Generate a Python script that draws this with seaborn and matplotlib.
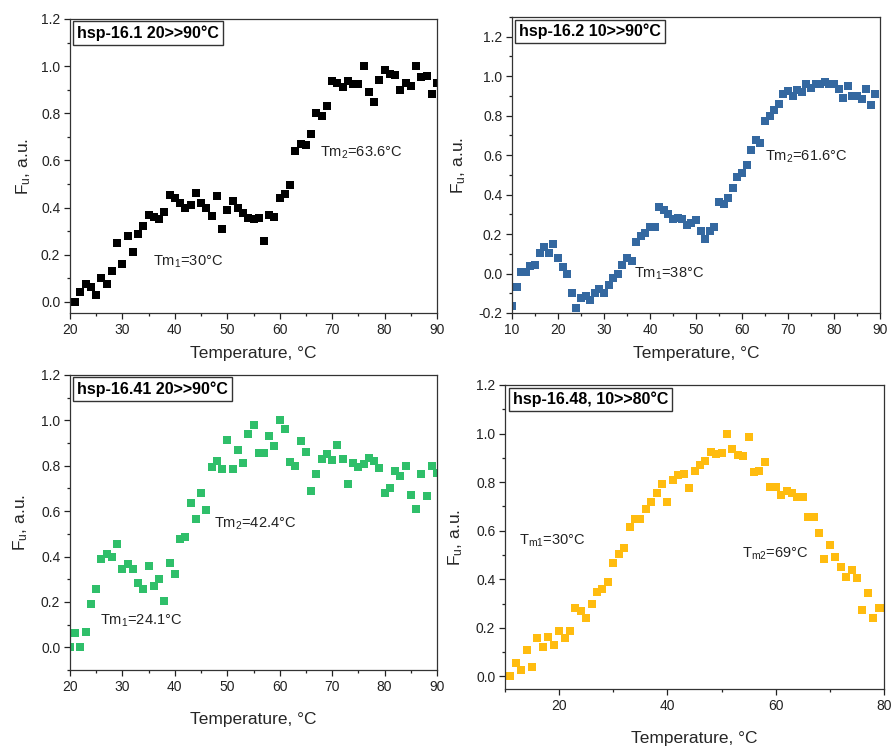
import numpy as np
import pandas as pd
import matplotlib
matplotlib.use("Agg")
import matplotlib.pyplot as plt
from matplotlib.ticker import MultipleLocator, FormatStrFormatter
import seaborn as sns

# ---- data: unfolded fraction F_u versus temperature ----
temp_161 = [20.5] + list(range(21, 91))
fu_161 = [0.00, 0.00, 0.044, 0.077, 0.063, 0.028, 0.103, 0.075, 0.13, 0.25,
          0.16, 0.28, 0.21, 0.29, 0.32, 0.37, 0.36, 0.35, 0.38, 0.455,
          0.44, 0.42, 0.40, 0.41, 0.46, 0.42, 0.40, 0.365, 0.45, 0.31,
          0.39, 0.43, 0.40, 0.376, 0.355, 0.35, 0.356, 0.26, 0.37, 0.36,
          0.44, 0.458, 0.496, 0.64, 0.67, 0.666, 0.714, 0.80, 0.787, 0.83,
          0.935, 0.93, 0.91, 0.935, 0.925, 0.925, 1.0, 0.89, 0.85, 0.94,
          0.985, 0.965, 0.962, 0.897, 0.93, 0.917, 1.0, 0.955, 0.96, 0.88, 0.93]

temp_162 = list(range(10, 90))
fu_162 = [-0.164, -0.069, 0.01, 0.01, 0.036, 0.042, 0.103, 0.135, 0.105, 0.15,
          0.081, 0.032, 0.0, -0.098, -0.173, -0.125, -0.113, -0.135, -0.098, -0.078,
          -0.098, -0.056, -0.022, 0.0, 0.042, 0.078, 0.063, 0.159, 0.188, 0.203,
          0.235, 0.235, 0.337, 0.32, 0.303, 0.274, 0.28, 0.277, 0.245, 0.257,
          0.269, 0.218, 0.176, 0.215, 0.235, 0.364, 0.35, 0.384, 0.435, 0.49,
          0.511, 0.55, 0.626, 0.678, 0.662, 0.775, 0.797, 0.83, 0.86, 0.909,
          0.925, 0.898, 0.93, 0.922, 0.963, 0.939, 0.963, 0.959, 0.973, 0.963,
          0.963, 0.934, 0.892, 0.951, 0.902, 0.902, 0.883, 0.934, 0.856, 0.912]

temp_1641 = list(range(20, 91))
fu_1641 = [0.0, 0.062, 0.003, 0.069, 0.191, 0.257, 0.391, 0.412, 0.396, 0.457,
           0.347, 0.366, 0.347, 0.285, 0.256, 0.357, 0.269, 0.299, 0.206, 0.372,
           0.321, 0.479, 0.487, 0.638, 0.565, 0.679, 0.607, 0.796, 0.821, 0.787,
           0.912, 0.787, 0.871, 0.812, 0.941, 0.978, 0.857, 0.857, 0.929, 0.885,
           1.0, 0.963, 0.816, 0.797, 0.907, 0.86, 0.687, 0.765, 0.829, 0.85,
           0.824, 0.89, 0.829, 0.719, 0.812, 0.793, 0.809, 0.835, 0.822, 0.79,
           0.682, 0.704, 0.775, 0.756, 0.801, 0.671, 0.609, 0.765, 0.668, 0.797,
           0.768]

temp_1648 = [10.5] + list(range(11, 80)) + [79.7]
fu_1648 = [0.0, 0.0, 0.055, 0.025, 0.107, 0.037, 0.159, 0.123, 0.162, 0.13,
           0.185, 0.159, 0.188, 0.283, 0.27, 0.239, 0.30, 0.346, 0.358, 0.388,
           0.466, 0.505, 0.528, 0.617, 0.65, 0.65, 0.691, 0.717, 0.757, 0.794,
           0.719, 0.809, 0.831, 0.835, 0.774, 0.846, 0.87, 0.888, 0.923, 0.916,
           0.919, 1.0, 0.938, 0.911, 0.908, 0.984, 0.84, 0.845, 0.883, 0.78,
           0.78, 0.748, 0.765, 0.757, 0.739, 0.739, 0.658, 0.657, 0.591, 0.483,
           0.539, 0.492, 0.45, 0.41, 0.439, 0.407, 0.274, 0.344, 0.24, 0.281,
           0.281]

titles = ["hsp-16.1 20>>90°C", "hsp-16.2 10>>90°C",
          "hsp-16.41 20>>90°C", "hsp-16.48, 10>>80°C"]
colors = ["#000000", "#3468A0", "#2FBF6A", "#FFBC0F"]

# ---- style ----
sns.set_theme(style="ticks")
plt.rcParams["font.family"] = ["Liberation Sans", "DejaVu Sans"]
plt.rcParams["mathtext.fontset"] = "custom"
plt.rcParams["mathtext.rm"] = "Liberation Sans"
plt.rcParams["mathtext.it"] = "Liberation Sans"

W, H = 893, 747
fig = plt.figure(figsize=(W / 100, H / 100), dpi=100)


def box(l, t, r, b):
    return [l / W, 1 - b / H, (r - l) / W, (b - t) / H]


panels = [
    dict(rect=box(70, 19, 437, 313), x=temp_161, y=fu_161, xlim=(20, 90), ylim=(-0.047, 1.2),
         xmaj=10, xmin=5, xpad=7, ypad=5.5,
         notes=[(35.8, 0.17, "Tm$\\mathregular{_1}$=30°C"),
                (67.7, 0.633, "Tm$\\mathregular{_2}$=63.6°C")]),
    dict(rect=box(512, 17, 880, 313), x=temp_162, y=fu_162, xlim=(10, 90), ylim=(-0.2, 1.3),
         xmaj=10, xmin=5, xpad=7, ypad=7.5,
         notes=[(36.6, 0.0, "Tm$\\mathregular{_1}$=38°C"),
                (65.0, 0.592, "Tm$\\mathregular{_2}$=61.6°C")]),
    dict(rect=box(70, 375, 437, 670), x=temp_1641, y=fu_1641, xlim=(20, 90), ylim=(-0.1, 1.2),
         xmaj=10, xmin=5, xpad=13, ypad=7.5,
         notes=[(25.7, 0.117, "Tm$\\mathregular{_1}$=24.1°C"),
                (47.5, 0.544, "Tm$\\mathregular{_2}$=42.4°C")]),
    dict(rect=box(505, 385, 884, 689), x=temp_1648, y=fu_1648, xlim=(10, 80), ylim=(-0.052, 1.2),
         xmaj=20, xmin=10, xpad=13, ypad=7.5,
         notes=[(12.5, 0.558, "T$\\mathregular{_{m1}}$=30°C"),
                (53.7, 0.505, "T$\\mathregular{_{m2}}$=69°C")]),
]

for p, title, col in zip(panels, titles, colors):
    ax = fig.add_axes(p["rect"])
    df = pd.DataFrame({"Temperature": p["x"], "Fu": p["y"]})
    sns.scatterplot(data=df, x="Temperature", y="Fu", ax=ax, marker="s",
                    s=28, color=col, linewidth=0, clip_on=True)
    ax.set_xlim(*p["xlim"])
    ax.set_ylim(*p["ylim"])
    ax.xaxis.set_major_locator(MultipleLocator(p["xmaj"]))
    ax.xaxis.set_minor_locator(MultipleLocator(p["xmin"]))
    ax.yaxis.set_major_locator(MultipleLocator(0.2))
    ax.yaxis.set_minor_locator(MultipleLocator(0.1))
    ax.yaxis.set_major_formatter(FormatStrFormatter("%.1f"))
    ax.tick_params(which="major", direction="out", length=4.5, width=0.9,
                   labelsize=10, pad=2.5, colors="#222222")
    ax.tick_params(which="minor", direction="out", length=2.5, width=0.9, colors="#222222")
    for s in ax.spines.values():
        s.set_linewidth(0.9)
        s.set_color("#333333")
    ax.set_xlabel("Temperature, °C", fontsize=12.5, labelpad=p["xpad"])
    ax.set_ylabel("F$\\mathregular{_u}$, a.u.", fontsize=12.5, labelpad=p["ypad"])
    ax.text(0.02, 0.978, title, transform=ax.transAxes, ha="left", va="top",
            fontsize=11.5, fontweight="bold", color="black",
            bbox=dict(boxstyle="square,pad=0.25", facecolor="white",
                      edgecolor="#333333", linewidth=1.0))
    for nx, ny, txt in p["notes"]:
        ax.text(nx, ny, txt, ha="left", va="center", fontsize=10.5, color="#222222")

fig.savefig("out.png", dpi=100)
